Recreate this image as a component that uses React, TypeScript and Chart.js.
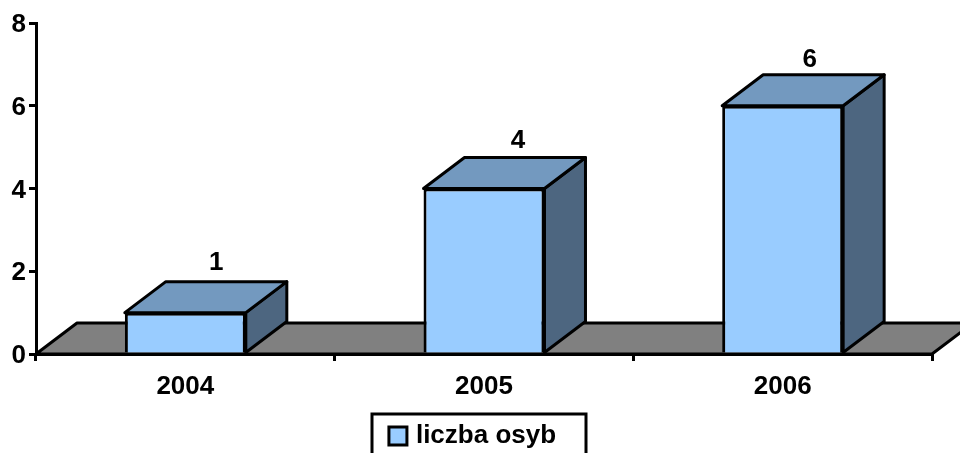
import React, { useEffect, useRef } from "react";
import { Chart, registerables } from "chart.js";

Chart.register(...registerables);

const categories = ["2004", "2005", "2006"];
const seriesName = "liczba osyb";
const values = [1, 4, 6];

const FONT = "'Liberation Sans', Arial, sans-serif";
const FRONT = "#99CCFF";
const TOP = "#7399BF";
const SIDE = "#4D6680";
const FLOOR = "#808080";
const INK = "#000000";
const DX = 41;
const DY = 31;
const LW = 3;
const labelDx = [31, 34, 27];
const labelDy = [-50, -48, -46];

const poly = (ctx: CanvasRenderingContext2D, pts: number[][], fill: string) => {
  ctx.beginPath();
  pts.forEach(([x, y], i) => (i ? ctx.lineTo(x, y) : ctx.moveTo(x, y)));
  ctx.closePath();
  ctx.fillStyle = fill;
  ctx.fill();
  ctx.stroke();
};

const box3d = {
  id: "box3d",
  afterLayout(chart: any) {
    chart.legend.left = 17;
    chart.legend.top += 6;
  },
  beforeDraw(chart: any) {
    // Nudge the value-axis labels down to sit as they do in the reference.
    chart.scales.y.getLabelItems(chart.chartArea).forEach((item: any) => {
      item.options.translation[1] += 2;
    });
  },
  beforeDatasetsDraw(chart: any) {
    const { ctx, chartArea: a } = chart;
    ctx.save();
    ctx.lineWidth = LW;
    ctx.strokeStyle = INK;
    ctx.lineJoin = "round";
    poly(ctx, [[a.left, a.bottom], [a.left + DX, a.bottom - DY], [a.right + DX, a.bottom - DY], [a.right, a.bottom]], FLOOR);
    for (const bar of chart.getDatasetMeta(0).data) {
      const half = bar.width / 2;
      const l = bar.x - half;
      const r = bar.x + half;
      const t = bar.y;
      const b = bar.base;
      poly(ctx, [[r, t], [r + DX, t - DY], [r + DX, b - DY], [r, b]], SIDE);
      poly(ctx, [[l, t], [l + DX, t - DY], [r + DX, t - DY], [r, t]], TOP);
    }
    ctx.restore();
  },
  afterDatasetsDraw(chart: any) {
    const { ctx } = chart;
    ctx.save();
    ctx.fillStyle = INK;
    ctx.font = `bold 26px ${FONT}`;
    ctx.textAlign = "center";
    ctx.textBaseline = "middle";
    chart.getDatasetMeta(0).data.forEach((bar: any, i: number) => {
      ctx.fillText(String(values[i]), bar.x + labelDx[i], bar.y + labelDy[i]);
    });
    ctx.restore();
  },
  afterDraw(chart: any) {
    const { ctx } = chart;
    ctx.save();
    ctx.lineWidth = LW;
    ctx.strokeStyle = INK;
    ctx.strokeRect(372, chart.legend.top - 1, 214, 60);
    ctx.restore();
  },
};

export default function App() {
  const ref = useRef<HTMLCanvasElement>(null);
  useEffect(() => {
    const chart = new Chart(ref.current!, {
      type: "bar",
      data: {
        labels: categories,
        datasets: [
          {
            label: seriesName,
            data: values,
            backgroundColor: FRONT,
            borderColor: INK,
            borderWidth: LW,
            barPercentage: 0.405,
            categoryPercentage: 1,
            pointStyle: "rect",
          } as any,
        ],
      },
      options: {
        responsive: false,
        animation: false,
        layout: { padding: { top: 23, left: 0, right: 28, bottom: 0 } },
        plugins: {
          tooltip: { enabled: false },
          legend: {
            position: "bottom",
            labels: {
              usePointStyle: true,
              boxWidth: 10,
              boxHeight: 18,
              padding: 8,
              color: INK,
              font: { family: FONT, size: 26, weight: "bold" },
            },
          },
        },
        scales: {
          x: {
            afterFit: (s: any) => {
              s.height = 99 - (s.chart.legend?.height ?? 0);
            },
            grid: {
              drawOnChartArea: false,
              color: INK,
              tickColor: INK,
              tickLength: 7,
              lineWidth: LW,
            },
            border: { color: INK, width: LW },
            ticks: { color: INK, padding: 10, maxRotation: 0, font: { family: FONT, size: 26, weight: "bold" } },
          },
          y: {
            min: 0,
            max: 8,
            afterFit: (s: any) => {
              s.width = 36;
            },
            grid: {
              drawOnChartArea: false,
              color: INK,
              tickColor: INK,
              tickLength: 7,
              lineWidth: LW,
            },
            border: { color: INK, width: LW },
            ticks: { color: INK, stepSize: 2, padding: 3, font: { family: FONT, size: 26, weight: "bold" } },
          },
        },
      },
      plugins: [box3d],
    } as any);
    return () => chart.destroy();
  }, []);
  return (
    <canvas
      ref={ref}
      width={960}
      height={453}
      style={{ position: "absolute", left: 0, top: 0, display: "block", background: "#fff" }}
    />
  );
}
